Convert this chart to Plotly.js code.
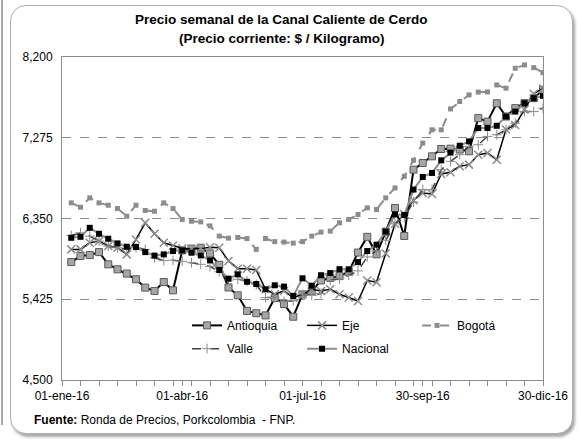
<!DOCTYPE html>
<html>
<head>
<meta charset="utf-8">
<script src="https://cdn.plot.ly/plotly-3.0.1.min.js"></script>
<style>
  html, body { margin:0; padding:0; background:#ffffff; }
  #wrap { position:relative; width:580px; height:440px; overflow:hidden; }
  #frame { position:absolute; left:10px; top:5px; width:561px; height:427px; border:1px solid #b0b0b0; border-radius:16px; box-shadow:2px 3px 3px rgba(0,0,0,0.35); background:#fff; }
  #edge { position:absolute; left:1px; top:0px; width:2px; height:425px; background:#a8a8a8; }
  #chart { position:absolute; left:0; top:0; width:580px; height:440px; }
</style>
</head>
<body>
<div id="wrap">
  <div id="edge"></div>
  <div id="frame"></div>
  <div id="chart"></div>
</div>
<script>
// Weekly dates (Fridays)
const weeks = [
  '2016-01-08','2016-01-15','2016-01-22','2016-01-29','2016-02-05','2016-02-12','2016-02-19','2016-02-26',
  '2016-03-04','2016-03-11','2016-03-18','2016-03-25','2016-04-01','2016-04-08','2016-04-15','2016-04-22',
  '2016-04-29','2016-05-06','2016-05-13','2016-05-20','2016-05-27','2016-06-03','2016-06-10','2016-06-17',
  '2016-06-24','2016-07-01','2016-07-08','2016-07-15','2016-07-22','2016-07-29','2016-08-05','2016-08-12',
  '2016-08-19','2016-08-26','2016-09-02','2016-09-09','2016-09-16','2016-09-23','2016-09-30','2016-10-07',
  '2016-10-14','2016-10-21','2016-10-28','2016-11-04','2016-11-11','2016-11-18','2016-11-25','2016-12-02',
  '2016-12-09','2016-12-16','2016-12-23','2016-12-30'
];

const antioquia = [5851,5920,5931,5965,5825,5768,5719,5654,5558,5520,5622,5527,5985,6005,6015,5950,
  5820,5560,5470,5291,5265,5240,5440,5370,5225,5480,5520,5640,5670,5690,5740,5960,
  6140,5940,6200,6470,6150,6910,6986,7062,7146,7150,7140,7120,7500,7460,7670,7518,
  7614,7671,7728,7823];

const eje = [5996,5996,6072,6091,6034,6015,5939,6110,6300,6175,6072,6040,6010,6000,6005,6020,
  6015,5863,5775,5775,5760,5539,5482,5520,5444,5482,5539,5520,5539,5482,5444,5405,
  5640,5620,5950,6290,6400,6560,6643,6630,6860,6880,6948,6967,7081,7100,7024,7370,
  7420,7600,7780,7840];

const bogota = [6529,6479,6586,6529,6502,6464,6376,6502,6442,6433,6529,6464,6339,6319,6311,6265,
  6148,6125,6133,6120,5996,6120,6085,6080,6068,6085,6148,6194,6205,6301,6339,6396,
  6472,6453,6586,6700,6833,7016,7214,7366,7366,7605,7690,7766,7798,7800,7880,7843,
  8071,8109,8078,8021];

const valle = [6156,6186,6148,6091,6034,6015,5996,6015,5996,5900,5867,5872,5860,5844,5825,5800,
  5740,5645,5654,5634,5596,5444,5444,5400,5406,5482,5470,5490,5640,5660,5700,5750,
  5910,5980,6100,6290,6360,6540,6681,6681,6910,7005,7081,7176,7195,7290,7309,7366,
  7442,7575,7575,7614];

const nacional = [6129,6140,6243,6175,6118,6065,6027,6023,5965,5925,5939,5977,5985,5958,5927,5870,
  5760,5660,5710,5625,5600,5539,5585,5570,5463,5665,5580,5700,5725,5770,5768,5850,
  5977,6050,6200,6396,6390,6681,6826,6872,7016,7105,7184,7233,7386,7386,7412,7518,
  7575,7671,7728,7755];

const xTickVals = ['2016-01-01','2016-04-01','2016-07-01','2016-09-30','2016-12-30'];
const xTickText = ['01-ene-16','01-abr-16','01-jul-16','30-sep-16','30-dic-16'];
const yTickVals = [4500,5425,6350,7275,8200];

const FONT = 'Liberation Sans, Arial, sans-serif';

const traces = [
  {name:'Antioquia', x:weeks, y:antioquia, type:'scatter', mode:'lines+markers',
   line:{color:'#000000', width:2},
   marker:{symbol:'square', size:7, color:'#a6a6a6', line:{color:'#595959', width:1}},
   legend:'legend'},
  {name:'Eje', x:weeks, y:eje, type:'scatter', mode:'lines+markers',
   line:{color:'#000000', width:1.5},
   marker:{symbol:'x-thin', size:8, color:'#8c8c8c', line:{color:'#8c8c8c', width:1.5}},
   legend:'legend'},
  {name:'Bogotá', x:weeks, y:bogota, type:'scatter', mode:'lines+markers',
   line:{color:'#8c8c8c', width:2, dash:'dash'},
   marker:{symbol:'square', size:5, color:'#8c8c8c'},
   legend:'legend'},
  {name:'Valle', x:weeks, y:valle, type:'scatter', mode:'lines+markers',
   line:{color:'#404040', width:1.5, dash:'dash'},
   marker:{symbol:'cross-thin', size:7, color:'#8c8c8c', line:{color:'#8c8c8c', width:1}},
   legend:'legend2'},
  {name:'Nacional', x:weeks, y:nacional, type:'scatter', mode:'lines+markers',
   line:{color:'#8c8c8c', width:2},
   marker:{symbol:'square', size:6, color:'#000000'},
   legend:'legend2'}
];

const layout = {
  width:580, height:440,
  paper_bgcolor:'rgba(0,0,0,0)', plot_bgcolor:'#ffffff',
  margin:{l:62, r:37, t:57, b:60},
  font:{family:FONT, size:12, color:'#000000'},
  xaxis:{type:'date', range:['2016-01-01','2016-12-30'],
    tickmode:'array', tickvals:xTickVals, ticktext:xTickText,
    ticks:'outside', ticklen:5, tickcolor:'#8c8c8c',
    minor:{ticks:'outside', ticklen:5, tickcolor:'#8c8c8c', dtick:14*86400000, tick0:'2016-01-01', showgrid:false},
    showline:true, linecolor:'#8c8c8c', linewidth:1, mirror:true,
    showgrid:false, zeroline:false, tickfont:{family:FONT, size:12}},
  yaxis:{range:[4500,8200], tickmode:'array', tickvals:yTickVals, tickformat:',',
    showline:true, linecolor:'#8c8c8c', linewidth:1, mirror:true,
    showgrid:true, gridcolor:'#8c8c8c', griddash:'dash', gridwidth:1,
    zeroline:false, ticks:'', ticklabelstandoff:6, tickfont:{family:FONT, size:12}},
  showlegend:true,
  legend:{orientation:'h', x:0.26, xanchor:'left', y:0.214, yanchor:'top',
    bgcolor:'rgba(0,0,0,0)', entrywidth:70, font:{family:FONT, size:12}, tracegroupgap:0},
  legend2:{orientation:'h', x:0.26, xanchor:'left', y:0.142, yanchor:'top',
    bgcolor:'rgba(0,0,0,0)', entrywidth:70, font:{family:FONT, size:12}, tracegroupgap:0},
  annotations:[
    {text:'<b>Precio semanal de la Canal Caliente de Cerdo</b>', xref:'paper', yref:'paper',
     x:0.457, y:1.1176, xanchor:'center', yanchor:'middle', showarrow:false,
     font:{family:FONT, size:13.5, color:'#000000'}},
    {text:'<b>(Precio corriente: $ / Kilogramo)</b>', xref:'paper', yref:'paper',
     x:0.457, y:1.0588, xanchor:'center', yanchor:'middle', showarrow:false,
     font:{family:FONT, size:13.5, color:'#000000'}},
    {text:'<b>Fuente:</b> Ronda de Precios, Porkcolombia  - FNP.', xref:'paper', yref:'paper',
     x:-0.062, y:-0.124, xanchor:'left', yanchor:'middle', showarrow:false,
     font:{family:FONT, size:12, color:'#000000'}}
  ]
};

Plotly.newPlot('chart', traces, layout, {staticPlot:true, displayModeBar:false});
</script>
</body>
</html>
